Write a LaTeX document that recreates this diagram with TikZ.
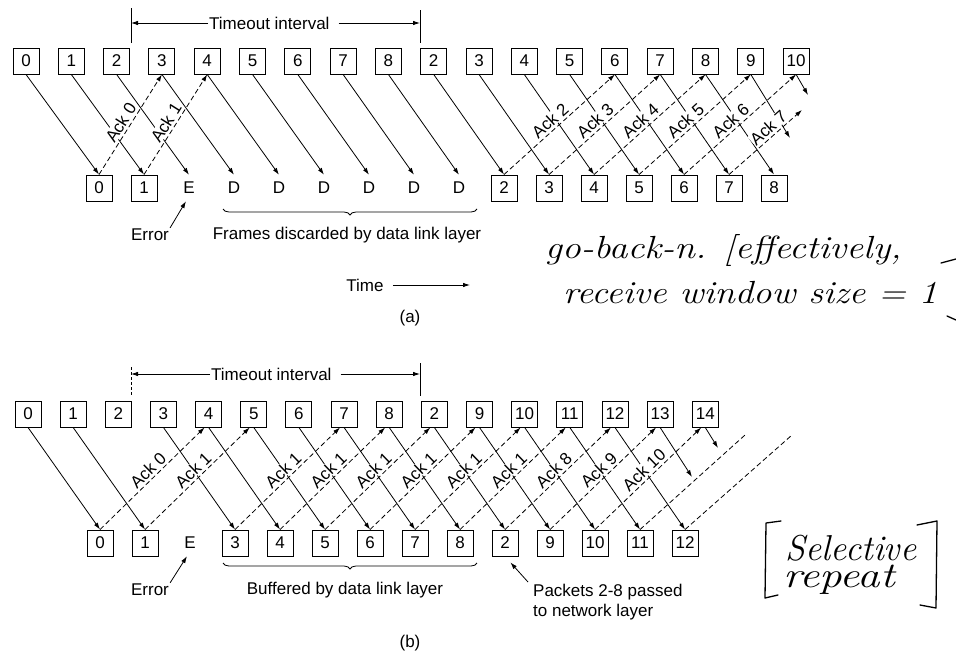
\documentclass[tikz,border=0pt]{standalone}
\usepackage{fontspec}
\newfontfamily\sans{Liberation Sans}
\usetikzlibrary{arrows.meta,decorations.pathreplacing,calc}
\begin{document}
\begin{tikzpicture}[x=1pt,y=-1pt,
  every node/.style={font=\sans\fontsize{17}{20}\selectfont},
  box/.style={draw, line width=0.9pt, minimum width=26pt, minimum height=26pt, inner sep=0pt},
  plain/.style={minimum width=26pt, minimum height=26pt, inner sep=0pt},
  txt/.style={inner sep=1pt},
  data/.style={line width=0.8pt, -{Latex[length=7pt,width=4.5pt]}},
  ack/.style={data, dash pattern=on 5pt off 3pt},
  ackn/.style={line width=0.8pt, dash pattern=on 5pt off 3pt},
  acklbl/.style={sloped, above=2pt, pos=0.47, fill=white, inner sep=0.5pt},
  tick/.style={line width=0.8pt},
  hand/.style={font=\itshape\fontsize{32}{38}\selectfont, inner sep=0pt},
  handbig/.style={font=\itshape\fontsize{36}{42}\selectfont, inner sep=0pt},
  handline/.style={line width=1.3pt, line cap=round, line join=round},
  bracey/.style={decorate, decoration={brace, mirror, amplitude=6pt}, line width=0.8pt}
]
\useasboundingbox (0,0) rectangle (956,656);

% ================= (a) =================
\foreach \lab [count=\k from 0] in {0,1,2,3,4,5,6,7,8,2,3,4,5,6,7,8,9,10}
  \node[box] (ta\k) at ({26+45.3*\k},61) {\lab};
\node[box] (ba0) at (99,188) {0};
\node[box] (ba1) at (144,188) {1};
\node[plain] (ba2) at (189,188) {E};
\foreach \k in {3,...,8}
  \node[plain] (ba\k) at ({99+45*\k},188) {D};
\foreach \k [evaluate=\k as \lab using int(\k-7)] in {9,...,15}
  \node[box] (ba\k) at ({99+45*\k},188) {\lab};

% data frames
\foreach \k in {0,...,15}
  \draw[data] (ta\k.south) -- (ba\k.north);
\coordinate (a9end) at (790,138);
\coordinate (a10end) at (808,95);
\draw[data] (ta16.south) -- (a9end);
\draw[data] (ta17.south) -- (a10end);

% acks
\draw[ack] (ba0.north) -- node[acklbl]{Ack 0} (ta3.south);
\draw[ack] (ba1.north) -- node[acklbl]{Ack 1} (ta4.south);
\foreach \k/\n in {9/2,10/3,11/4,12/5,13/6}{
  \pgfmathtruncatemacro\t{\k+4}
  \draw[ack] (ba\k.north) -- node[acklbl]{Ack \n} (ta\t.south);
}
\coordinate (a7end) at (802,110);
\draw[ack] (ba14.north) -- node[acklbl, pos=0.62]{Ack 7} (a7end);

% timeout interval (a)
\coordinate (tla1) at (131,8);  \coordinate (tla2) at (131,43);
\coordinate (tra1) at (420,10); \coordinate (tra2) at (420,43);
\draw[tick] (tla1) -- (tla2);
\draw[tick] (tra1) -- (tra2);
\node[txt, anchor=west] (toa) at (208,23) {Timeout interval};
\coordinate (tla) at (131,23);
\coordinate (tra) at (420,23);
\draw[data] (toa.west) -- (tla);
\draw[data, shorten <=8pt] (toa.east) -- (tra);

% error, brace, time
\node[txt] (erra) at (150,235) {Error};
\draw[data] (erra.north east) -- ([xshift=-3pt]ba2.south);
\draw[bracey] (223,209) -- (477,209);
\node[txt] (fda) at (347,235) {Frames discarded by data link layer};
\node[txt] (time) at (365,285) {Time};
\coordinate (timeend) at (470,285);
\draw[data, shorten <=8pt] (time.east) -- (timeend);
\node[txt] (capa) at (410,318) {(a)};

% handwriting (a)
\node[hand, anchor=west, xscale=1.17] (h1) at (545,250) {go-back-n. [effectively,};
\node[hand, anchor=west, xscale=1.15] (h2) at (563,293) {receive window size = 1};
\draw[handline] (941,263) -- (956,259);
\draw[handline] (947,316) -- (956,320);

% ================= (b) =================
\foreach \lab [count=\k from 0] in {0,1,2,3,4,5,6,7,8,2,9,10,11,12,13,14}
  \node[box] (tb\k) at ({28+45.15*\k},414) {\lab};
\node[box] (bb0) at (100,543) {0};
\node[box] (bb1) at (145,543) {1};
\node[plain] (bb2) at (190,543) {E};
\foreach \lab [count=\k from 3] in {3,4,5,6,7,8,2,9,10,11,12}
  \node[box] (bb\k) at ({100+45*\k},543) {\lab};

% data frames
\foreach \k in {0,1,3,4,5,6,7,8,9,10,11,12,13}
  \draw[data] (tb\k.south) -- (bb\k.north);
\coordinate (b13end) at (692,477);
\coordinate (b14end) at (718,448);
\draw[data] (tb14.south) -- (b13end);
\draw[data] (tb15.south) -- (b14end);

% acks
\foreach \k/\n in {0/0,1/1,3/1,4/1,5/1,6/1,7/1,8/1,9/8,10/9,11/10}{
  \pgfmathtruncatemacro\t{\k+4}
  \draw[ack] (bb\k.north) -- node[acklbl, pos=0.52]{Ack \n} ([xshift=-4pt]tb\t.south);
}
\coordinate (b11end) at (745,435);
\coordinate (b12end) at (792,435);
\draw[ackn] (bb12.north) -- (b11end);
\draw[ackn] (bb13.north) -- (b12end);

% timeout interval (b)
\coordinate (tlb1) at (131,367); \coordinate (tlb2) at (131,395);
\coordinate (trb1) at (420,363); \coordinate (trb2) at (420,396);
\draw[tick, dash pattern=on 3pt off 2pt] (tlb1) -- (tlb2);
\draw[tick] (trb1) -- (trb2);
\node[txt, anchor=west] (tob) at (210,374) {Timeout interval};
\coordinate (tlb) at (131,374);
\coordinate (trb) at (420,374);
\draw[data] (tob.west) -- (tlb);
\draw[data, shorten <=8pt] (tob.east) -- (trb);

% error, brace, packets
\node[txt] (errb) at (150,590) {Error};
\draw[data] (errb.north east) -- ([xshift=-3pt]bb2.south);
\draw[bracey] (223,563) -- (477,563);
\node[txt] (bfb) at (345,590) {Buffered by data link layer};
\node[txt, anchor=west, align=left] (pk) at (532,602) {Packets 2-8 passed\\to network layer};
\coordinate (pkfrom) at (528,582);
\draw[data, shorten >=8pt] (pkfrom) -- (bb9.south);
\node[txt] (capb) at (410,643) {(b)};

% handwriting (b)
\node[handbig] (sel) at (851,548) {Selective};
\node[handbig, xscale=1.25] (rep) at (839,580) {repeat};
\draw[handline] (781,521) -- (766,523) -- (765,598) -- (778,595);
\draw[handline] (917,525) -- (937,521) -- (936,608) -- (920,605);
\end{tikzpicture}
\end{document}
